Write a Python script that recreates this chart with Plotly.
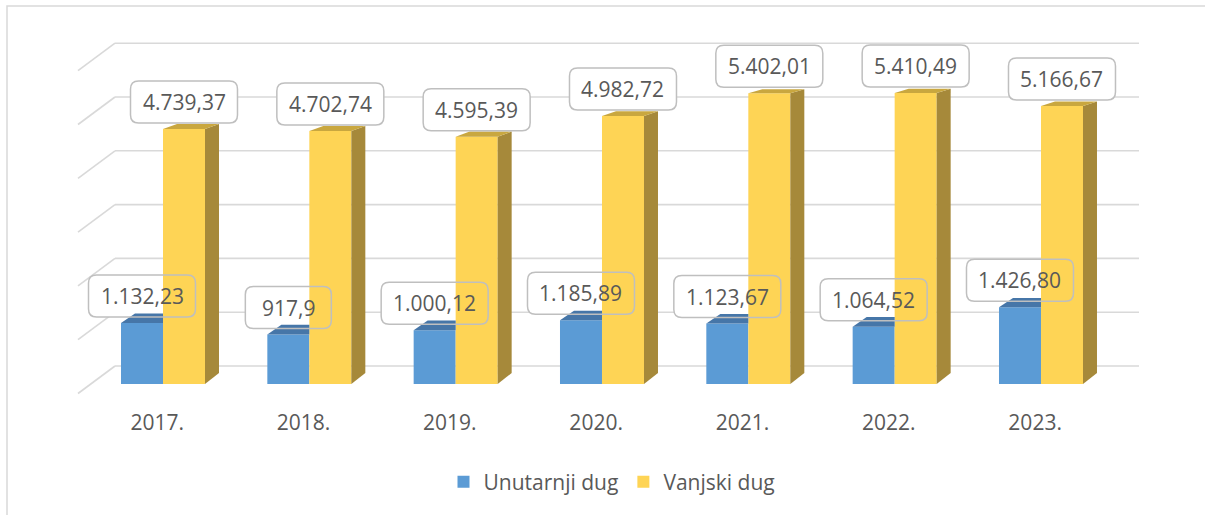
import plotly.graph_objects as go

# ---------------- data ----------------
categories = ["2017.", "2018.", "2019.", "2020.", "2021.", "2022.", "2023."]
domestic = [1132.23, 917.9, 1000.12, 1185.89, 1123.67, 1064.52, 1426.80]
foreign = [4739.37, 4702.74, 4595.39, 4982.72, 5402.01, 5410.49, 5166.67]
domestic_labels = ["1.132,23", "917,9", "1.000,12", "1.185,89", "1.123,67", "1.064,52", "1.426,80"]
foreign_labels = ["4.739,37", "4.702,74", "4.595,39", "4.982,72", "5.402,01", "5.410,49", "5.166,67"]
grid_values = [0, 1000, 2000, 3000, 4000, 5000, 6000]
series_names = ["Unutarnji dug", "Vanjski dug"]

# ---------------- styling / geometry ----------------
BLUE, BLUE_TOP = "#5B9BD5", "#4676A8"
GOLD, GOLD_TOP, GOLD_SIDE = "#FED455", "#C9A73F", "#A6893A"
GRID = "#D9D9D9"
TEXT = "#595959"
FONT = "Open Sans"

W, H = 1205, 515
ML, MR, MT, MB = 60, 25, 20, 115
plot_w = W - ML - MR
plot_h = H - MT - MB
X_RANGE = [-0.7039, 6.950]
Y_RANGE = [-297.4, 6765.8]
PXY = plot_h / (Y_RANGE[1] - Y_RANGE[0])      # pixels per value unit
PXX = plot_w / (X_RANGE[1] - X_RANGE[0])      # pixels per category unit

BAR_W = 42 / PXX          # width of one column face
DX = 14 / PXX             # horizontal depth of the 3D columns


def depth_dy(v):
    # perspective depth offset (value units); shrinks toward the top
    return (11 - 6 * v / 4739.37) / PXY


WALL_DY = 18 / PXY
WALL_X0, WALL_X1 = (115 - 163) / PXX, (1139 - 163) / PXX
SIDE_X = (78 - 163) / PXX
SIDE_DY = 27.5 / PXY

pos = list(range(len(categories)))

fig = go.Figure()

# front faces
fig.add_trace(go.Bar(x=pos, y=domestic, name=series_names[0], marker=dict(color=BLUE, line_width=0),
                     offset=-BAR_W, width=BAR_W, hoverinfo="skip"))
fig.add_trace(go.Bar(x=pos, y=foreign, name=series_names[1], marker=dict(color=GOLD, line_width=0),
                     offset=0, width=BAR_W, hoverinfo="skip"))

# top/side faces
for i, (b, g) in enumerate(zip(domestic, foreign)):
    xl, xm, xr = i - BAR_W, i, i + BAR_W
    db, dg, d0 = depth_dy(b), depth_dy(g), depth_dy(0)
    fig.add_trace(go.Scatter(x=[xl, xl + DX, xm, xm, xl], y=[b, b + db, b + db, b, b],
                             fill="toself", fillcolor=BLUE_TOP, mode="lines", line=dict(width=0),
                             showlegend=False, hoverinfo="skip"))
    fig.add_trace(go.Scatter(x=[xr, xr + DX, xr + DX, xr, xr], y=[0, d0, g + dg, g, 0],
                             fill="toself", fillcolor=GOLD_SIDE, mode="lines", line=dict(width=0),
                             showlegend=False, hoverinfo="skip"))
    fig.add_trace(go.Scatter(x=[xm, xm + DX, xr + DX, xr, xm], y=[g, g + dg, g + dg, g, g],
                             fill="toself", fillcolor=GOLD_TOP, mode="lines", line=dict(width=0),
                             showlegend=False, hoverinfo="skip"))

shapes = []
# back wall and side wall gridlines
for v in grid_values:
    yb = v + WALL_DY
    shapes.append(dict(type="line", xref="x", yref="y", x0=WALL_X0, x1=WALL_X1, y0=yb, y1=yb,
                       line=dict(color=GRID, width=1.6), layer="below"))
    shapes.append(dict(type="line", xref="x", yref="y", x0=SIDE_X, x1=WALL_X0, y0=yb - SIDE_DY, y1=yb,
                       line=dict(color=GRID, width=1.6), layer="below"))


def text_width(s, size=21):
    return sum(0.572 * size if ch.isdigit() else 0.26 * size for ch in s)


def rounded_box(w, h, y0, r=8):
    x0, x1, y1 = -w / 2, w / 2, y0 + h
    return (f"M {x0 + r},{y0} L {x1 - r},{y0} Q {x1},{y0} {x1},{y0 + r} "
            f"L {x1},{y1 - r} Q {x1},{y1} {x1 - r},{y1} L {x0 + r},{y1} Q {x0},{y1} {x0},{y1 - r} "
            f"L {x0},{y0 + r} Q {x0},{y0} {x0 + r},{y0} Z")


annotations = []
label_sets = [(domestic, domestic_labels, -BAR_W / 2), (foreign, foreign_labels, BAR_W / 2)]
box_fills, box_lines = [], []
for values, labels, off in label_sets:
    for i, (v, lab) in enumerate(zip(values, labels)):
        xc = i + off
        bw = max(text_width(lab) + 24, 86)
        path = rounded_box(bw, 42, 6)
        box_fills.append(dict(type="path", xref="x", yref="y", xsizemode="pixel", ysizemode="pixel",
                              xanchor=xc, yanchor=v, path=path, fillcolor="white",
                              line=dict(width=0), layer="below"))
        box_lines.append(dict(type="path", xref="x", yref="y", xsizemode="pixel", ysizemode="pixel",
                              xanchor=xc, yanchor=v, path=path, fillcolor="rgba(0,0,0,0)",
                              line=dict(color="#BFBFBF", width=1.5), layer="above"))
        annotations.append(dict(x=xc, y=v, xref="x", yref="y", text=lab, showarrow=False,
                                yshift=27, font=dict(family=FONT, size=21, color=TEXT)))

shapes += box_fills + box_lines

# outer chart border (only top and left edges are inside the picture)
shapes.append(dict(type="rect", xref="paper", yref="paper",
                   x0=(7 - ML) / plot_w, x1=1.2, y0=-0.6, y1=(MT + plot_h - 6) / plot_h,
                   line=dict(color=GRID, width=1.5), fillcolor="rgba(0,0,0,0)", layer="below"))

fig.update_layout(
    width=W, height=H,
    margin=dict(l=ML, r=MR, t=MT, b=MB),
    paper_bgcolor="white", plot_bgcolor="white",
    barmode="overlay",
    shapes=shapes, annotations=annotations,
    showlegend=True,
    legend=dict(orientation="h", x=(612 - ML) / plot_w, xanchor="center",
                y=(plot_h - (482 - MT)) / plot_h, yanchor="middle",
                font=dict(family=FONT, size=21, color=TEXT), itemsizing="constant",
                traceorder="normal", bgcolor="rgba(0,0,0,0)"),
    xaxis=dict(range=X_RANGE, tickmode="array", tickvals=[p - 0.04 for p in pos], ticktext=categories,
               showgrid=False, zeroline=False, showline=False, ticks="",
               ticklabelstandoff=8, tickfont=dict(family=FONT, size=21, color=TEXT), fixedrange=True),
    yaxis=dict(range=Y_RANGE, showgrid=False, zeroline=False, showline=False, showticklabels=False,
               ticks="", fixedrange=True),
)

fig.write_html("out.html", config={"displayModeBar": False},
               post_script="document.body.style.margin='0px';")
